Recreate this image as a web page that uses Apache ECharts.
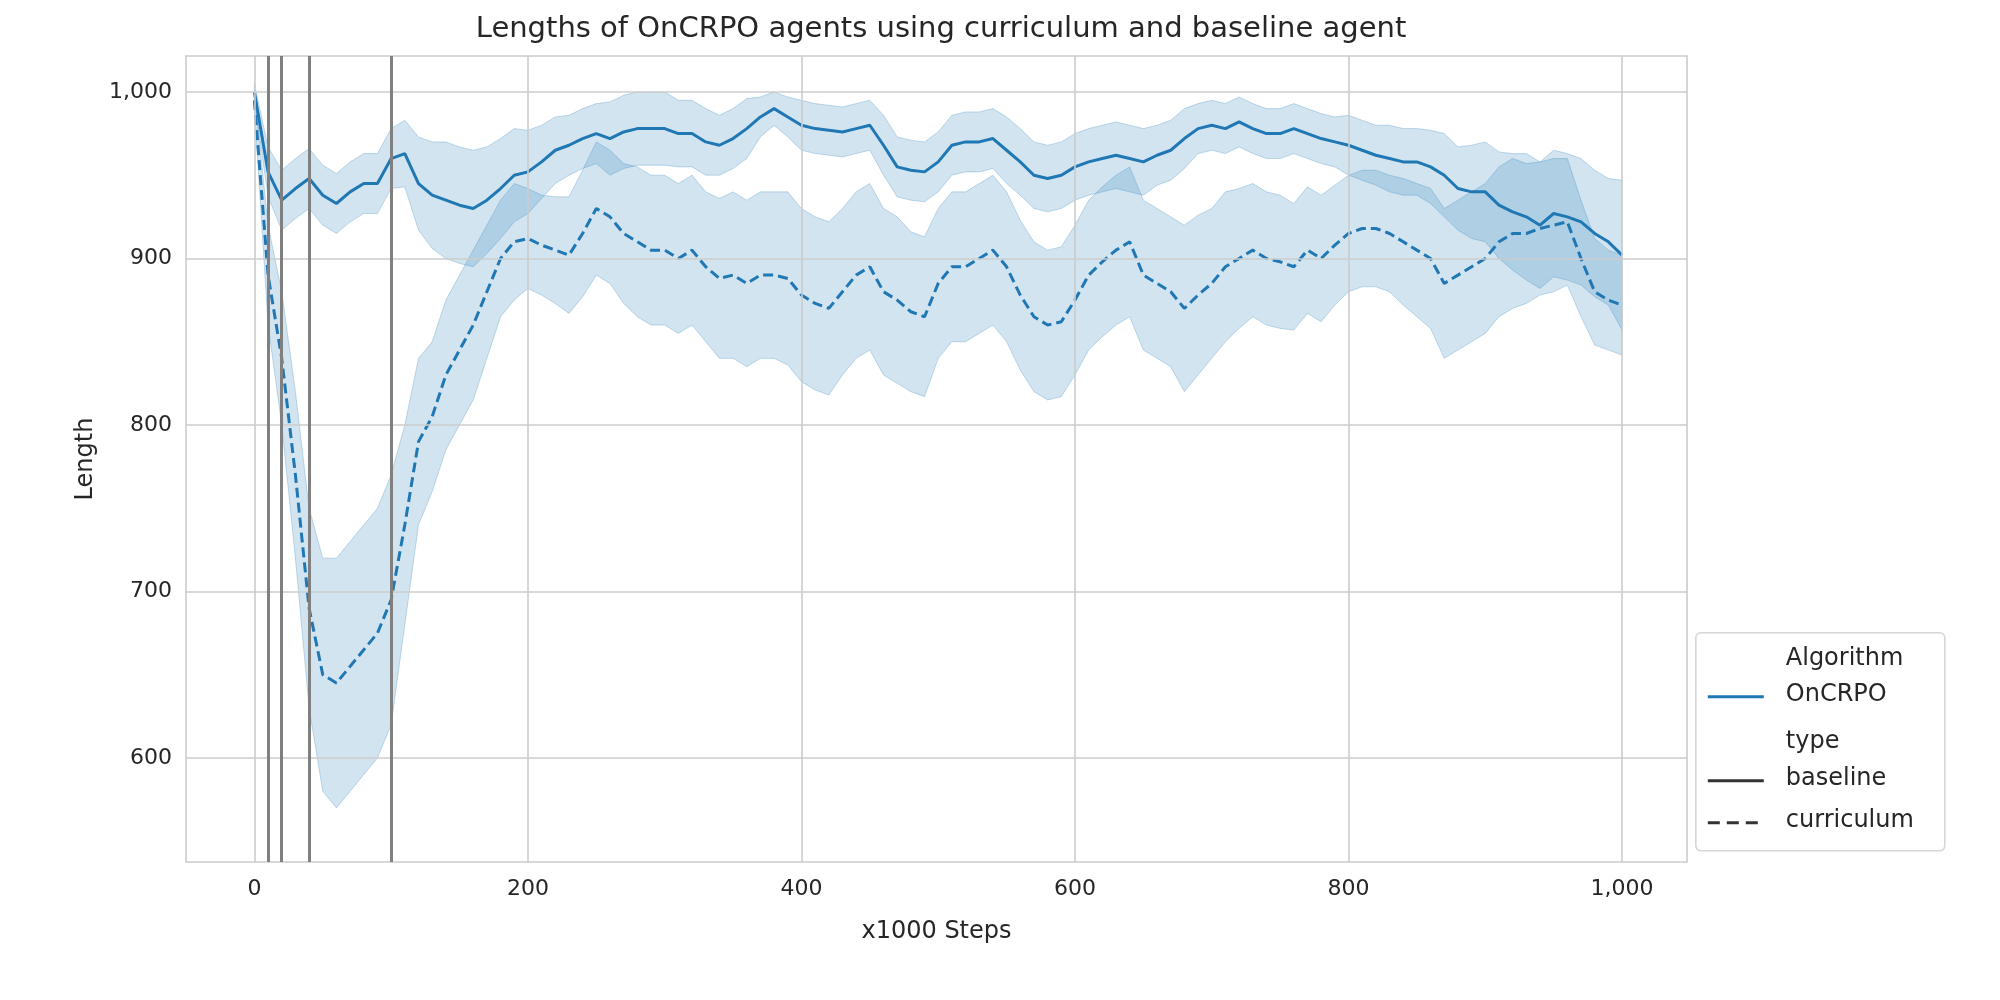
<!DOCTYPE html><html><head><meta charset="utf-8">
<script src="https://cdn.jsdelivr.net/npm/echarts@6/dist/echarts.min.js"></script>
<style>html,body{margin:0;background:#fff}#c{width:2000px;height:1000px}</style></head><body><div id="c"></div>
<script>
const steps = Array.from({length:101},(_,i)=>i*10);
const baseMean = [1000,952,935,942,948,938,933,940,945,945,960,963,945,938,935,932,930,935,942,950,952,958,965,968,972,975,972,976,978,978,978,975,975,970,968,972,978,985,990,985,980,978,977,976,978,980,968,955,953,952,958,968,970,970,972,965,958,950,948,950,955,958,960,962,960,958,962,965,972,978,980,978,982,978,975,975,978,975,972,970,968,965,962,960,958,958,955,950,942,940,940,932,928,925,920,927,925,922,915,910,902];
const baseHalf = [5,15,18,18,18,18,18,18,18,18,18,20,28,32,35,35,35,32,30,28,25,22,20,18,18,18,22,22,22,22,22,20,20,20,18,18,18,12,10,12,15,15,15,15,15,15,18,18,18,18,18,18,18,18,18,20,20,20,20,20,20,20,20,20,20,20,18,18,18,15,15,15,15,15,15,15,15,15,15,15,18,18,18,20,20,20,22,25,25,28,30,32,35,38,38,38,38,38,38,38,45];
const currMean = [995,890,840,770,690,650,645,655,665,675,695,740,790,805,830,845,860,880,900,910,912,908,905,902,915,930,925,915,910,905,905,900,905,895,888,890,885,890,890,888,878,873,870,880,890,895,880,875,868,865,885,895,895,900,905,895,878,865,860,862,875,890,898,905,910,890,885,880,870,878,885,895,900,905,900,898,895,905,900,908,915,918,918,915,910,905,900,885,890,895,900,910,915,915,918,920,922,900,880,875,872];
const currHalf = [5,30,40,50,60,70,75,75,75,75,75,60,50,45,45,45,45,40,35,35,30,30,32,35,38,40,40,42,45,45,45,45,45,45,48,50,50,50,50,52,52,52,52,50,50,50,50,50,48,48,45,45,45,45,45,45,45,45,45,45,45,45,45,45,45,45,45,45,50,48,45,45,42,40,40,40,38,38,38,36,35,35,35,35,38,40,42,45,45,45,45,45,45,42,40,40,38,35,32,30,30];
const xTicks = [0,200,400,600,800,1000];
const yTicks = [600,700,800,900,1000];
const phaseLines = [10,20,40,100];

const blue = '#1f77b4';
const zip = (m)=>steps.map((s,i)=>[s,m[i]]);
function band(mean, half){
  return {type:'custom', silent:true, z:1, data:[0], renderItem:(p,api)=>{
    const up = steps.map((s,i)=>api.coord([s,mean[i]+half[i]]));
    const lo = steps.map((s,i)=>api.coord([s,mean[i]-half[i]])).reverse();
    return {type:'polygon', shape:{points:up.concat(lo)}, style:{fill:'rgba(31,119,180,0.2)', stroke:'rgba(31,119,180,0.25)', lineWidth:1}};
  }};
}
const gridLine = {color:'#cccccc', width:1.6, type:'solid'};
const chart = echarts.init(document.getElementById('c'));
chart.setOption({
  animation:false,
  textStyle:{fontFamily:'DejaVu Sans', color:'#262626'},
  title:{text:'Lengths of OnCRPO agents using curriculum and baseline agent', left:936, top:10, textAlign:'center', textStyle:{fontSize:29, fontWeight:'normal', color:'#262626', fontFamily:'DejaVu Sans'}},
  grid:{left:186, right:313, top:56, bottom:138, show:true, borderColor:'#cccccc', borderWidth:1.6},
  xAxis:{type:'value', min:-50, max:1047.5, name:'x1000 Steps', nameLocation:'middle', nameGap:58, nameTextStyle:{fontSize:24, color:'#262626'},
    splitLine:{show:false}, axisLine:{show:false}, axisTick:{show:false},
    axisLabel:{customValues:xTicks, fontSize:22, color:'#262626', margin:16}},
  yAxis:{type:'value', min:537.5, max:1021.6, name:'Length', nameLocation:'middle', nameGap:80, nameTextStyle:{fontSize:24, color:'#262626'},
    splitLine:{show:false}, axisLine:{show:false}, axisTick:{show:false},
    axisLabel:{customValues:yTicks, fontSize:22, color:'#262626', margin:14}},
  series:[
    {type:'line', data:[], silent:true, markLine:{silent:true, symbol:'none', label:{show:false}, lineStyle:gridLine,
      data: xTicks.map(v=>({xAxis:v})).concat(yTicks.map(v=>({yAxis:v})))}, z:0},
    band(baseMean, baseHalf),
    band(currMean, currHalf),
    {type:'line', data:zip(baseMean), showSymbol:false, lineStyle:{color:blue, width:3}, z:3},
    {type:'line', data:zip(currMean), showSymbol:false, lineStyle:{color:blue, width:3, type:[10,5]}, z:3},
    {type:'line', data:[], silent:true, z:4, markLine:{silent:true, symbol:'none', label:{show:false}, lineStyle:{color:'#808080', width:3, type:'solid'},
      data: phaseLines.map(v=>({xAxis:v}))}}
  ],
  graphic:[{type:'group', left:1695, top:632, children:[
    {type:'rect', shape:{x:0,y:0,width:249,height:218,r:5}, style:{fill:'#fff', stroke:'#d6d6d6', lineWidth:1.6}},
    {type:'text', style:{x:90,y:14,text:'Algorithm',fontSize:24,fill:'#262626',fontFamily:'DejaVu Sans'}},
    {type:'line', shape:{x1:12,y1:64,x2:68,y2:64}, style:{stroke:blue,lineWidth:3}},
    {type:'text', style:{x:90,y:50,text:'OnCRPO',fontSize:24,fill:'#262626',fontFamily:'DejaVu Sans'}},
    {type:'text', style:{x:90,y:97,text:'type',fontSize:24,fill:'#262626',fontFamily:'DejaVu Sans'}},
    {type:'line', shape:{x1:12,y1:148,x2:68,y2:148}, style:{stroke:'#333',lineWidth:3}},
    {type:'text', style:{x:90,y:134,text:'baseline',fontSize:24,fill:'#262626',fontFamily:'DejaVu Sans'}},
    {type:'line', shape:{x1:12,y1:190,x2:68,y2:190}, style:{stroke:'#333',lineWidth:3,lineDash:[12,7]}},
    {type:'text', style:{x:90,y:176,text:'curriculum',fontSize:24,fill:'#262626',fontFamily:'DejaVu Sans'}}
  ]}]
});
</script></body></html>
